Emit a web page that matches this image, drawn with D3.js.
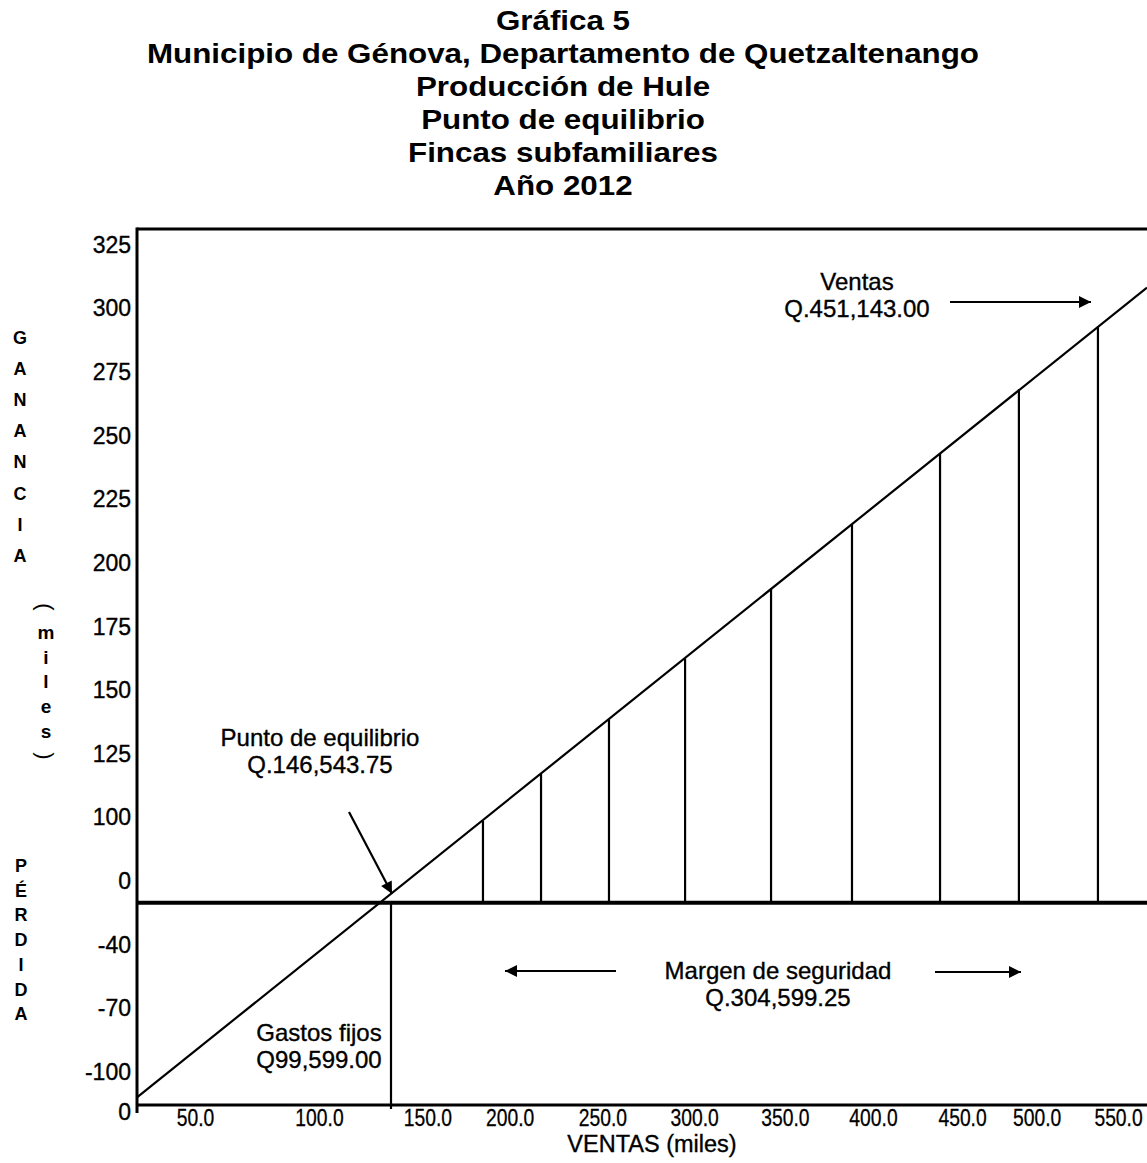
<!DOCTYPE html>
<html>
<head>
<meta charset="utf-8">
<script src="https://cdn.jsdelivr.net/npm/d3@7/dist/d3.min.js"></script>
<style>
  html, body { margin: 0; padding: 0; background: #fff; }
  svg { display: block; font-family: "Liberation Sans", Arial, sans-serif; }
</style>
</head>
<body>
<div id="chart"></div>
<script>
// ---------------- DATA ----------------
const titleLines = [
  "Gráfica 5",
  "Municipio de Génova, Departamento de Quetzaltenango",
  "Producción de Hule",
  "Punto de equilibrio",
  "Fincas subfamiliares",
  "Año 2012"
];
// y tick labels as printed (non-linear, evenly spaced on the drawing)
const yTickLabels = ["325","300","275","250","225","200","175","150","125","100","0","-40","-70","-100"];
// x tick labels as printed, and the sales value (miles) under which each one sits
const xTickLabels = ["50.0","100.0","150.0","200.0","250.0","300.0","350.0","400.0","450.0","500.0","550.0"];
const xTickAt     = [33.5, 105.0, 167.5, 215.0, 268.5, 321.4, 373.8, 424.6, 476.0, 519.0, 566.0];
// profit line (ventas, ganancia) in miles
const profitLine = [ {v: 0, g: -99.599}, {v: 582.7, g: 315.0} ];
// vertical lines of the safety margin
const dropV = [199.6, 233.1, 272.3, 316.2, 365.8, 412.5, 463.3, 508.8, 554.4];
const dropG = [42, 66, 94, 125, 161, 194, 230, 263, 295];
// key values (miles)
const puntoEquilibrio = 146.54375;
const gastosFijos = 99.599;
const ventasTotal = 451.143;
const margenSeguridad = 304.59925;
const leftLabelTop = ["G","A","N","A","N","C","I","A"];
const leftLabelMid = ["(","m","i","l","e","s",")"];
const leftLabelBot = ["P","É","R","D","I","D","A"];

// ---------------- LAYOUT ----------------
const W = 1147, H = 1163;
const L = 137, R = 1147, T = 229, B = 1105;
const INK = 0.35; // slight stroke to mimic printed weight

const svg = d3.select("#chart").append("svg").attr("width", W).attr("height", H);
svg.append("rect").attr("width", W).attr("height", H).attr("fill", "#fff");

const x = d3.scaleLinear().domain([0, 582.7]).range([L, R]);
const y = d3.scaleLinear().domain([-103.5, 345]).range([B, T]);
const yLab = d3.scalePoint().domain(yTickLabels).range([245, 1072]);

// defs: arrowhead
const defs = svg.append("defs");
defs.append("marker").attr("id", "ah")
  .attr("viewBox", "0 0 10 10").attr("refX", 10).attr("refY", 5)
  .attr("markerWidth", 17).attr("markerHeight", 12)
  .attr("markerUnits", "userSpaceOnUse").attr("orient", "auto")
  .append("path").attr("d", "M0,0 L10,5 L0,10 Z").attr("fill", "#000");

// title
svg.append("g").selectAll("text").data(titleLines).join("text")
  .attr("transform", (d, i) => `translate(563,${29.5 + i * 33}) scale(1.1,1)`)
  .attr("text-anchor", "middle").attr("font-weight", "bold").attr("font-size", 28.5)
  .attr("fill", "#000").text(d => d);

// frame lines
svg.append("line").attr("x1", L).attr("x2", R).attr("y1", T).attr("y2", T)
  .attr("stroke", "#000").attr("stroke-width", 3);
svg.append("line").attr("x1", L).attr("x2", L).attr("y1", T - 1.5).attr("y2", B + 8)
  .attr("stroke", "#000").attr("stroke-width", 3);
svg.append("line").attr("x1", L).attr("x2", R).attr("y1", B).attr("y2", B)
  .attr("stroke", "#000").attr("stroke-width", 3);
// zero line
svg.append("line").attr("x1", L).attr("x2", R).attr("y1", y(0)).attr("y2", y(0))
  .attr("stroke", "#000").attr("stroke-width", 4);

// y axis labels
const gy = svg.append("g").attr("transform", `translate(${L - 6},0)`)
  .call(d3.axisLeft(yLab).tickSize(0).tickPadding(0));
gy.select(".domain").remove();
gy.selectAll("text").attr("font-size", 23).attr("font-family", "Liberation Sans, Arial, sans-serif")
  .attr("fill", "#000").attr("stroke", "#000").attr("stroke-width", INK);
// origin zero
svg.append("text").attr("x", L - 6).attr("y", 1120).attr("text-anchor", "end")
  .attr("font-size", 23).attr("stroke", "#000").attr("stroke-width", INK).text("0");

// x axis labels
const gx = svg.append("g").attr("transform", `translate(0,${B})`)
  .call(d3.axisBottom(x).tickValues(xTickAt).tickFormat((d, i) => xTickLabels[i]).tickSize(0).tickPadding(5));
gx.select(".domain").remove();
gx.selectAll("text").attr("font-size", 23).attr("font-family", "Liberation Sans, Arial, sans-serif")
  .attr("fill", "#000").attr("stroke", "#000").attr("stroke-width", INK * 0.8)
  .attr("transform", "scale(0.84,1)");

svg.append("text").attr("x", 652).attr("y", 1152).attr("text-anchor", "middle")
  .attr("font-size", 23.5).attr("stroke", "#000").attr("stroke-width", INK).text("VENTAS (miles)");

// profit line
svg.append("path").datum(profitLine)
  .attr("d", d3.line().x(d => x(d.v)).y(d => y(d.g)))
  .attr("fill", "none").attr("stroke", "#000").attr("stroke-width", 2.2);

// drop lines
svg.append("g").selectAll("line").data(dropV).join("line")
  .attr("x1", d => x(d)).attr("x2", d => x(d))
  .attr("y1", y(0)).attr("y2", (d, i) => y(dropG[i]))
  .attr("stroke", "#000").attr("stroke-width", 2.2);

// gastos fijos vertical at break-even
svg.append("line").attr("x1", x(puntoEquilibrio)).attr("x2", x(puntoEquilibrio))
  .attr("y1", y(0)).attr("y2", B + 4).attr("stroke", "#000").attr("stroke-width", 2.2);

// annotations
function label(lines, cx, y0, fs) {
  svg.append("g").selectAll("text").data(lines).join("text")
    .attr("x", cx).attr("y", (d, i) => y0 + i * 27)
    .attr("text-anchor", "middle").attr("font-size", fs).attr("fill", "#000")
    .attr("stroke", "#000").attr("stroke-width", INK).text(d => d);
}
label(["Punto de equilibrio", "Q.146,543.75"], 320, 746, 24);
label(["Gastos fijos", "Q99,599.00"], 319, 1041, 24);
label(["Ventas", "Q.451,143.00"], 857, 290, 24);
label(["Margen de seguridad", "Q.304,599.25"], 778, 979, 24);

function arrow(x1, y1, x2, y2) {
  svg.append("line").attr("x1", x1).attr("y1", y1).attr("x2", x2).attr("y2", y2)
    .attr("stroke", "#000").attr("stroke-width", 2.2).attr("marker-end", "url(#ah)");
}
arrow(349, 812, x(puntoEquilibrio) + 1, y(0) - 9);
arrow(950, 302, 1091, 302);
arrow(616, 971, 505, 971);
arrow(935, 972, 1021, 972);

// left vertical labels
function column(chars, cx, y0, step, fs, weight) {
  svg.append("g").selectAll("text").data(chars).join("text")
    .attr("x", cx).attr("y", (d, i) => y0 + i * step)
    .attr("text-anchor", "middle").attr("font-size", fs).attr("font-weight", weight)
    .attr("fill", "#000").text(d => d);
}
column(leftLabelTop, 20, 344, 31.1, 18, "bold");
column(leftLabelBot, 21, 872, 24.7, 18, "bold");
// (miles) with rotated parentheses
const midG = svg.append("g");
leftLabelMid.forEach((c, i) => {
  const cy = 607 + i * 24.8;
  if (c === "(" || c === ")") {
    midG.append("text").attr("transform", `translate(46,${cy}) rotate(90)`)
      .attr("text-anchor", "middle").attr("dy", "0.35em").attr("font-size", 22).text(c);
  } else {
    midG.append("text").attr("x", 46).attr("y", cy + 7)
      .attr("text-anchor", "middle").attr("font-size", 19).attr("font-weight", "bold").text(c);
  }
});
</script>
</body>
</html>
